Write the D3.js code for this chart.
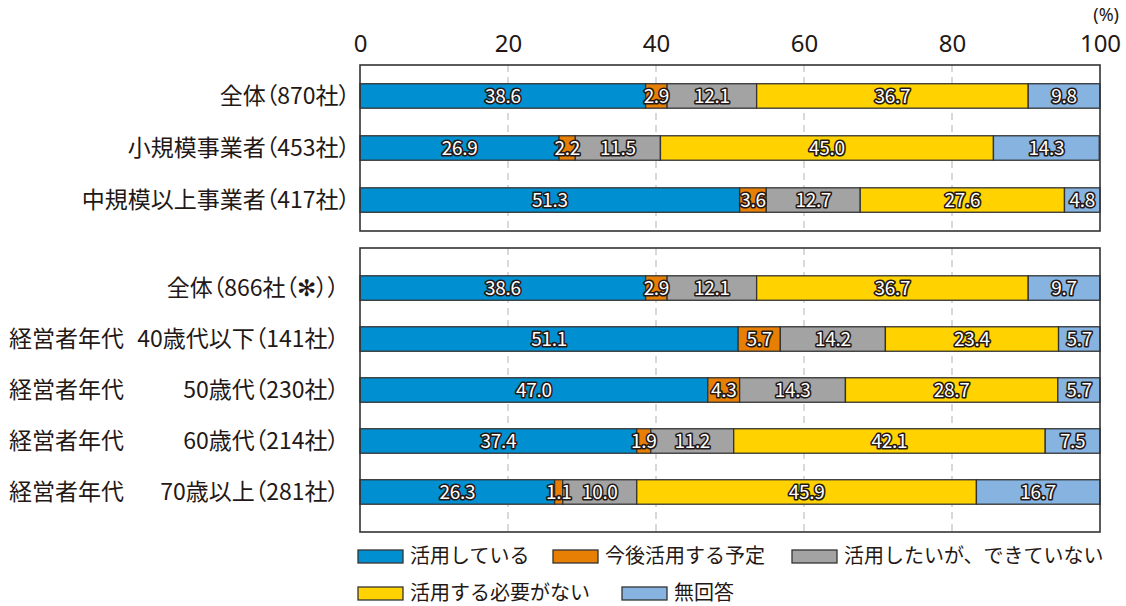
<!DOCTYPE html>
<html>
<head>
<meta charset="utf-8">
<script src="https://cdn.jsdelivr.net/npm/d3@7"></script>
<style>
  body { margin: 0; background: #fff; }
  svg { font-family: "Noto Sans CJK JP", "Noto Sans", sans-serif; }
  .cat { font-feature-settings: "palt"; }
</style>
</head>
<body>
<div id="chart"></div>
<script>
const seriesNames = ["活用している", "今後活用する予定", "活用したいが、できていない", "活用する必要がない", "無回答"];
const seriesColors = ["#008fd0", "#e87f05", "#a3a3a3", "#ffd200", "#86b3e0"];

// panel 1: 規模別
const categories1 = ["全体（870社）", "小規模事業者（453社）", "中規模以上事業者（417社）"];
const using1 = [38.6, 26.9, 51.3];
const planned1 = [2.9, 2.2, 3.6];
const wantCant1 = [12.1, 11.5, 12.7];
const noNeed1 = [36.7, 45.0, 27.6];
const noAnswer1 = [9.8, 14.3, 4.8];

// panel 2: 経営者年代別
const prefixes2 = ["", "経営者年代", "経営者年代", "経営者年代", "経営者年代"];
const categories2 = ["全体（866社（✻））", "40歳代以下（141社）", "50歳代（230社）", "60歳代（214社）", "70歳以上（281社）"];
const using2 = [38.6, 51.1, 47.0, 37.4, 26.3];
const planned2 = [2.9, 5.7, 4.3, 1.9, 1.1];
const wantCant2 = [12.1, 14.2, 14.3, 11.2, 10.0];
const noNeed2 = [36.7, 23.4, 28.7, 42.1, 45.9];
const noAnswer2 = [9.7, 5.7, 5.7, 7.5, 16.7];

const xTicks = [0, 20, 40, 60, 80, 100];

const textColor = "#231815";
const width = 1126, height = 606;

const svg = d3.select("#chart").append("svg")
  .attr("width", width)
  .attr("height", height);

const x = d3.scaleLinear().domain([0, 100]).range([360, 1100]).clamp(true);

function buildRows(cats, cols) {
  return cats.map((c, i) => {
    const row = { cat: c };
    seriesNames.forEach((s, k) => { row[s] = cols[k][i]; });
    return row;
  });
}

const rows1 = buildRows(categories1, [using1, planned1, wantCant1, noNeed1, noAnswer1]);
const rows2 = buildRows(categories2, [using2, planned2, wantCant2, noNeed2, noAnswer2]);

const y1 = d3.scaleBand().domain(categories1).range([65, 231]).paddingInner(0.53).paddingOuter(0.36);
const y2 = d3.scaleBand().domain(categories2).range([248, 532]).paddingInner(0.52).paddingOuter(0.545);

const stack = d3.stack().keys(seriesNames);

// top axis
const axis = svg.append("g")
  .attr("transform", "translate(0,52)")
  .call(d3.axisTop(x).tickValues(xTicks).tickSize(0).tickPadding(0));
axis.select(".domain").remove();
axis.selectAll("text")
  .attr("fill", textColor)
  .style("font-size", "24px")
  .style("font-family", "'Noto Sans', sans-serif");

svg.append("text")
  .attr("x", 1119).attr("y", 21)
  .attr("text-anchor", "end")
  .attr("fill", textColor)
  .style("font-size", "18px")
  .style("font-family", "'Noto Sans', sans-serif")
  .text("(%)");

function drawPanel(rows, y, labelEnd, prefixes) {
  const [top, bottom] = y.range();
  const g = svg.append("g");

  g.append("rect")
    .attr("x", x(0)).attr("y", top)
    .attr("width", x(100) - x(0)).attr("height", bottom - top)
    .attr("fill", "#fff");

  // dashed grid
  g.selectAll(".grid")
    .data(xTicks.filter(t => t > 0 && t < 100))
    .enter().append("line")
    .attr("x1", d => x(d)).attr("x2", d => x(d))
    .attr("y1", top).attr("y2", bottom)
    .attr("stroke", "#c0c0c0")
    .attr("stroke-width", 1.2)
    .attr("stroke-dasharray", "7,5");

  const layers = stack(rows);

  layers.forEach((layer, k) => {
    g.selectAll(null)
      .data(layer)
      .enter().append("rect")
      .attr("x", d => x(d[0]))
      .attr("y", d => y(d.data.cat))
      .attr("width", d => x(d[1]) - x(d[0]))
      .attr("height", y.bandwidth())
      .attr("fill", seriesColors[k])
      .attr("stroke", "#333")
      .attr("stroke-width", 1.3);
  });

  layers.forEach(layer => {
    g.selectAll(null)
      .data(layer)
      .enter().append("text")
      .attr("x", d => (x(d[0]) + x(d[1])) / 2)
      .attr("y", d => y(d.data.cat) + y.bandwidth() / 2 + 7)
      .attr("text-anchor", "middle")
      .attr("fill", "#fff")
      .attr("stroke", textColor)
      .attr("stroke-width", 3.2)
      .attr("stroke-linejoin", "round")
      .attr("paint-order", "stroke")
      .style("font-size", "19px")
      .style("letter-spacing", "-0.3px")
      .text(d => (d[1] - d[0]).toFixed(1));
  });

  // frame
  g.append("rect")
    .attr("x", x(0)).attr("y", top)
    .attr("width", x(100) - x(0)).attr("height", bottom - top)
    .attr("fill", "none")
    .attr("stroke", "#333")
    .attr("stroke-width", 1.6);

  // category labels
  g.selectAll(".cat")
    .data(rows)
    .enter().append("text")
    .attr("class", "cat")
    .attr("x", labelEnd)
    .attr("y", d => y(d.cat) + y.bandwidth() / 2 + 8)
    .attr("text-anchor", "end")
    .attr("fill", textColor)
    .style("font-size", "23px")
    .text(d => d.cat);

  if (prefixes) {
    g.selectAll(".prefix")
      .data(rows)
      .enter().append("text")
      .attr("x", 9)
      .attr("y", d => y(d.cat) + y.bandwidth() / 2 + 8)
      .attr("fill", textColor)
      .style("font-size", "23px")
      .text((d, i) => prefixes[i]);
  }
}

drawPanel(rows1, y1, 350, null);
drawPanel(rows2, y2, 339, prefixes2);

// legend
const legendItems = [
  { i: 0, x: 358, y: 556 },
  { i: 1, x: 553, y: 556 },
  { i: 2, x: 792, y: 556 },
  { i: 3, x: 358, y: 593 },
  { i: 4, x: 622, y: 593 }
];
const legend = svg.append("g");
legendItems.forEach(it => {
  legend.append("rect")
    .attr("x", it.x).attr("y", it.y - 6)
    .attr("width", 45).attr("height", 13)
    .attr("fill", seriesColors[it.i])
    .attr("stroke", "#333")
    .attr("stroke-width", 1.3);
  legend.append("text")
    .attr("x", it.x + 52).attr("y", it.y + 7)
    .attr("fill", textColor)
    .style("font-size", "20px")
    .text(seriesNames[it.i]);
});
</script>
</body>
</html>
